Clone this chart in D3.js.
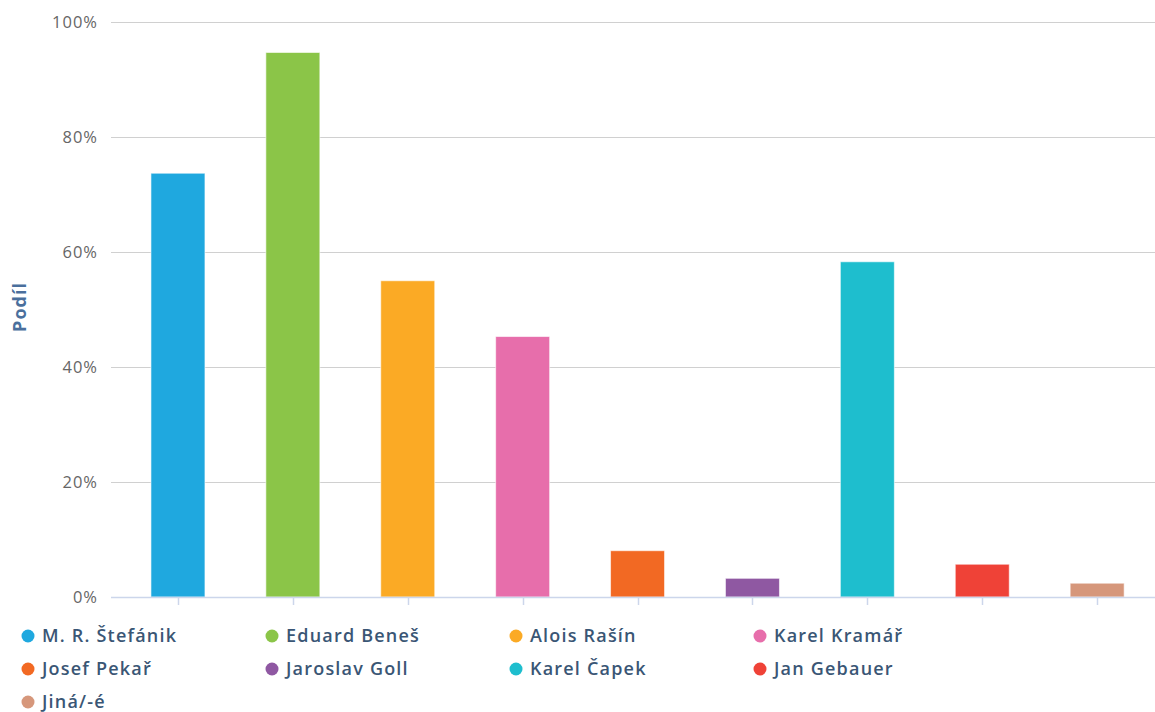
<!DOCTYPE html>
<html>
<head>
<meta charset="utf-8">
<script src="https://cdn.jsdelivr.net/npm/d3@7"></script>
<style>
  html, body { margin: 0; padding: 0; background: #fff; }
  svg { display: block; font-family: "Open Sans", "Noto Sans", sans-serif; }
</style>
</head>
<body>
<svg id="chart" width="1155" height="712"></svg>
<script>
// Categories, values (share in %) and colours
const categories = ["M. R. Štefánik", "Eduard Beneš", "Alois Rašín", "Karel Kramář",
                    "Josef Pekař", "Jaroslav Goll", "Karel Čapek", "Jan Gebauer", "Jiná/-é"];
const values = [73.7, 94.7, 55.0, 45.3, 8.05, 3.25, 58.3, 5.7, 2.4];
const colors = ["#1fa8df", "#8bc548", "#fbaa25", "#e76eab", "#f26923",
                "#8f58a2", "#1ebece", "#ef4237", "#d6977b"];
const yTicks = [0, 20, 40, 60, 80, 100];
const yTitle = "Podíl";

const svg = d3.select("#chart");
const plot = { left: 111, right: 1155, top: 22, bottom: 597 };

const x = d3.scaleBand()
  .domain(categories)
  .range([120.5, 1154.6])
  .paddingInner(0.53)
  .paddingOuter(0.265);

const y = d3.scaleLinear().domain([0, 100]).range([plot.bottom, plot.top]);

// Horizontal grid lines
svg.append("g")
  .selectAll("line")
  .data(yTicks.filter(d => d > 0))
  .join("line")
  .attr("x1", plot.left).attr("x2", plot.right)
  .attr("y1", d => Math.round(y(d)) + 0.5).attr("y2", d => Math.round(y(d)) + 0.5)
  .attr("stroke", "#d0d0d0")
  .attr("stroke-width", 1);

// Y axis labels
const yAxis = d3.axisLeft(y).tickValues(yTicks).tickFormat(d => d + "%").tickSize(0).tickPadding(0);
const yg = svg.append("g").attr("transform", `translate(98,0)`).call(yAxis);
yg.select(".domain").remove();
yg.selectAll("text")
  .attr("fill", "#666")
  .style("font-size", "16.5px")
  .style("letter-spacing", "1px")
  .style("font-family", "'Open Sans', sans-serif");

// Y axis title
svg.append("text")
  .attr("transform", `translate(26,307) rotate(-90)`)
  .attr("text-anchor", "middle")
  .attr("fill", "#4a6f9c")
  .style("font-size", "18px")
  .style("letter-spacing", "1px")
  .style("font-weight", "bold")
  .text(yTitle);

// Bars
svg.append("g")
  .selectAll("rect")
  .data(values)
  .join("rect")
  .attr("x", (d, i) => x(categories[i]))
  .attr("width", x.bandwidth())
  .attr("y", d => y(d))
  .attr("height", d => y(0) - y(d))
  .attr("fill", (d, i) => colors[i])
  .attr("stroke", "#ffffff")
  .attr("stroke-opacity", 0.6)
  .attr("stroke-width", 1);

// X axis line and ticks at category centres
const xg = svg.append("g").attr("transform", `translate(0,${plot.bottom})`);
xg.append("line")
  .attr("x1", plot.left).attr("x2", plot.right)
  .attr("y1", 0.5).attr("y2", 0.5)
  .attr("stroke", "#ccd6eb").attr("stroke-width", 1.5);
xg.selectAll("line.tick")
  .data(categories)
  .join("line")
  .attr("class", "tick")
  .attr("x1", d => Math.round(x(d) + x.bandwidth() / 2) + 0.5)
  .attr("x2", d => Math.round(x(d) + x.bandwidth() / 2) + 0.5)
  .attr("y1", 1).attr("y2", 8)
  .attr("stroke", "#ccd6eb").attr("stroke-width", 1.5);

// Legend: four columns, wrapped rows
const legendCols = 4, colW = 244, rowH = 33;
const legend = svg.append("g").attr("transform", "translate(28,636)");
const items = legend.selectAll("g")
  .data(categories)
  .join("g")
  .attr("transform", (d, i) => `translate(${(i % legendCols) * colW},${Math.floor(i / legendCols) * rowH})`);
items.append("circle")
  .attr("r", 6.5)
  .attr("fill", (d, i) => colors[i]);
items.append("text")
  .attr("x", 14)
  .attr("dy", "0.35em")
  .attr("fill", "#3a5675")
  .style("font-size", "18px")
  .style("font-weight", "600")
  .style("letter-spacing", "1.2px")
  .style("font-family", "'Open Sans', sans-serif")
  .text(d => d);
</script>
</body>
</html>
